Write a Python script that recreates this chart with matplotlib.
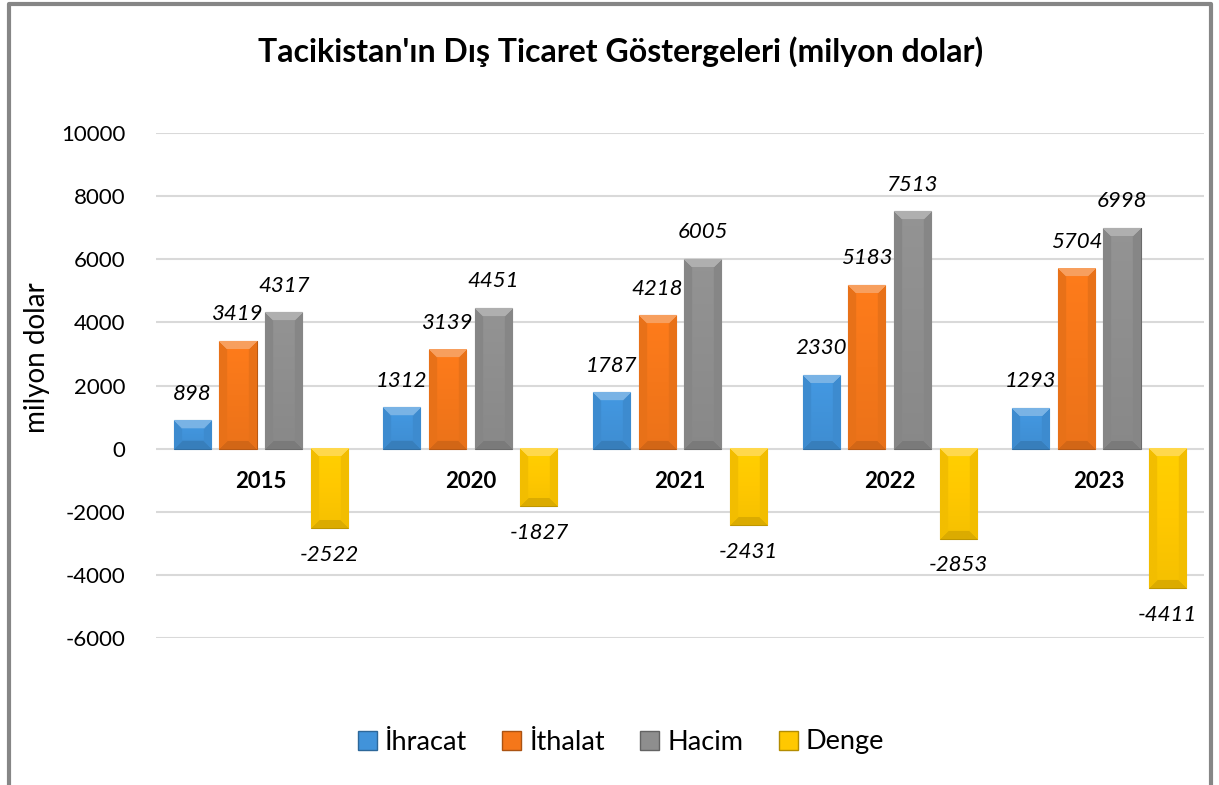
import matplotlib
matplotlib.use("Agg")
import matplotlib.pyplot as plt
import numpy as np
from matplotlib.patches import Patch
from matplotlib.colors import to_rgb

plt.rcParams["font.family"] = ["Lato", "DejaVu Sans"]

years = ["2015", "2020", "2021", "2022", "2023"]
series = ["İhracat", "İthalat", "Hacim", "Denge"]
ihracat = [898, 1312, 1787, 2330, 1293]
ithalat = [3419, 3139, 4218, 5183, 5704]
hacim = [4317, 4451, 6005, 7513, 6998]
denge = [-2522, -1827, -2431, -2853, -4411]
colors = ["#4193DA", "#F5771A", "#8E8E8E", "#FFC800"]
yticks = [-6000, -4000, -2000, 0, 2000, 4000, 6000, 8000, 10000]

W, H = 1219, 785
fig = plt.figure(figsize=(W / 100, H / 100), dpi=100)
ax = fig.add_axes([156 / W, 1 - 638 / H, 1048 / W, 505 / H])


def bevel(ax, bar, color, depth=8):
    # fake the Excel bevel: light top, slightly darker sides and bottom
    x0, y0 = bar.get_x(), bar.get_y()
    w, h = bar.get_width(), bar.get_height()
    lo, hi = min(y0, y0 + h), max(y0, y0 + h)
    p0 = ax.transData.transform((x0, lo))
    p1 = ax.transData.transform((x0 + w, hi))
    pw = max(int(round(p1[0] - p0[0])), 2)
    ph = max(int(round(p1[1] - p0[1])), 2)
    base = np.array(to_rgb(color))
    yy, xx = np.mgrid[0:ph, 0:pw]
    d = np.stack([yy, xx, pw - 1 - xx, ph - 1 - yy])  # top, left, right, bottom
    k = d.argmin(axis=0)
    m = d.min(axis=0)
    vert = 1.04 - 0.08 * (yy / max(ph - 1, 1))
    img = base[None, None, :] * vert[..., None]
    edge = m < min(depth, ph // 2, pw // 2)
    top = edge & (k == 0)
    side = edge & ((k == 1) | (k == 2))
    bot = edge & (k == 3)
    img[top] = base * 0.7 + 0.3
    img[side] = base * 0.95
    img[bot] = base * 0.86
    img = np.clip(img, 0, 1)
    ax.imshow(img, extent=(x0, x0 + w, lo, hi), origin="upper", aspect="auto",
              interpolation="bilinear", clip_path=bar, zorder=3)


x = np.arange(len(years))
step, width = 0.218, 0.177
offsets = (np.arange(4) - 1.5) * step
ax.set_xlim(-0.5, 4.5)
ax.set_ylim(-6000, 10000)
ax.spines["bottom"].set_position(("data", 0))

for vals, col, off in zip([ihracat, ithalat, hacim, denge], colors, offsets):
    bars = ax.bar(x + off, vals, width, color=col, edgecolor=np.array(to_rgb(col)) * 0.75,
                  linewidth=0.8, zorder=2)
    for b, v in zip(bars, vals):
        bevel(ax, b, col)
        ax.annotate(str(v), (b.get_x() + b.get_width() / 2, v),
                    xytext=(0, 12 if v > 0 else -12), textcoords="offset points",
                    ha="center", va="bottom" if v > 0 else "top",
                    fontsize=16, fontstyle="italic", zorder=5)

ax.set_xlim(-0.5, 4.5)
ax.set_ylim(-6000, 10000)
ax.set_yticks(yticks)
ax.set_yticklabels([str(t) for t in yticks], fontsize=16)
ax.tick_params(axis="y", length=0, pad=22)
ax.set_xticks(x)
ax.set_xticklabels(years, fontsize=16, fontweight="bold")
ax.tick_params(axis="x", length=0, pad=16)
for s in ax.spines.values():
    s.set_visible(False)
ax.grid(axis="y", color="#D9D9D9", linewidth=1.5, zorder=0)
ax.set_axisbelow(True)
ax.set_ylabel("milyon dolar", fontsize=20)
ax.yaxis.set_label_coords(-0.101, 0.555)

fig.text(621 / W, 1 - 52 / H, "Tacikistan'ın Dış Ticaret Göstergeleri (milyon dolar)",
         ha="center", va="center", fontsize=23, fontweight="bold")

handles = [Patch(facecolor=c, edgecolor=np.array(to_rgb(c)) * 0.7) for c in colors]
fig.legend(handles, series, loc="center", bbox_to_anchor=(621 / W, 1 - 742 / H),
           ncol=4, frameon=False, fontsize=19.5, handlelength=0.7, handleheight=0.7,
           handletextpad=0.3, columnspacing=1.3)

# grey chart border (left, top, right)
fig.add_artist(plt.Line2D([9 / W, 9 / W, 1211 / W, 1211 / W], [0, 1 - 4 / H, 1 - 4 / H, 0],
                          transform=fig.transFigure, color="#868686", linewidth=3))

fig.savefig("out.png", dpi=100)
